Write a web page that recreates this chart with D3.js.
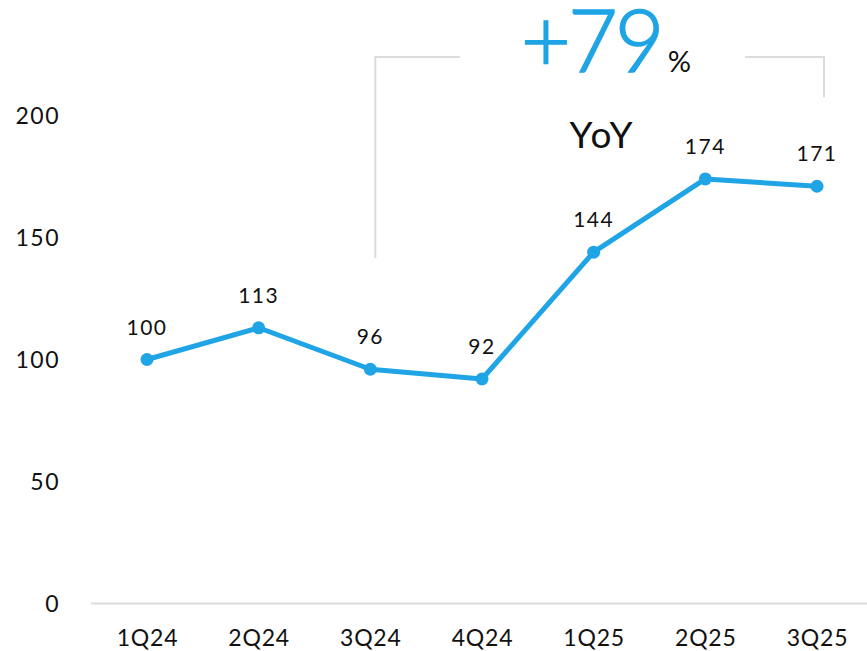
<!DOCTYPE html>
<html>
<head>
<meta charset="utf-8">
<script src="https://cdn.jsdelivr.net/npm/d3@7/dist/d3.min.js"></script>
<style>
  html, body { margin: 0; padding: 0; background: #fff; }
  svg { display: block; font-family: "Lato", "Inter", sans-serif; }
</style>
</head>
<body>
<svg id="chart" width="867" height="651"></svg>
<script>
// Quarterly index values
const quarters = ["1Q24", "2Q24", "3Q24", "4Q24", "1Q25", "2Q25", "3Q25"];
const values = [100, 113, 96, 92, 144, 174, 171];
const yTicks = [0, 50, 100, 150, 200];
const yoyValue = "+79";
const yoyUnit = "%";
const yoyLabel = "YoY";

const blue = "#1fa4e5";
const grey = "#dcdcdc";
const ink = "#111";

const svg = d3.select("#chart");

const x = d3.scalePoint().domain(quarters).range([147, 817]);
const y = d3.scaleLinear().domain([0, 200]).range([603.5, 115.5]);

// Baseline
svg.append("line")
  .attr("x1", 91).attr("x2", 867)
  .attr("y1", y(0)).attr("y2", y(0))
  .attr("stroke", grey).attr("stroke-width", 2);

// Y axis labels
const yAxis = d3.axisLeft(y).tickValues(yTicks).tickSize(0).tickPadding(0);
const gy = svg.append("g").attr("transform", "translate(60,0)").call(yAxis);
gy.select(".domain").remove();
gy.selectAll("text")
  .attr("font-family", "Lato, sans-serif")
  .attr("font-size", 23)
  .attr("letter-spacing", 1.5)
  .attr("fill", ink)
  .attr("dy", "0.36em");

// X axis labels
const xAxis = d3.axisBottom(x).tickSize(0).tickPadding(0);
const gx = svg.append("g").attr("transform", "translate(0,646)").call(xAxis);
gx.select(".domain").remove();
gx.selectAll("text")
  .attr("font-family", "Lato, sans-serif")
  .attr("font-size", 23)
  .attr("letter-spacing", 0.8)
  .attr("fill", ink)
  .attr("dy", 0);

// YoY bracket spanning 3Q24 → 3Q25
const bx0 = x("3Q24") + 5, bx1 = x("3Q25") + 7;
const bTop = 57;
svg.append("path")
  .attr("d", `M${bx0},${y(141.5)}V${bTop}H460`)
  .attr("fill", "none").attr("stroke", grey).attr("stroke-width", 2);
svg.append("path")
  .attr("d", `M745,${bTop}H${bx1}V${y(207.5)}`)
  .attr("fill", "none").attr("stroke", grey).attr("stroke-width", 2);

// YoY headline
const head = svg.append("text")
  .attr("x", 521).attr("y", 72)
  .attr("font-family", "Lato, sans-serif");
head.append("tspan")
  .attr("font-size", 86).attr("font-weight", 300)
  .attr("letter-spacing", -3)
  .attr("fill", blue)
  .attr("stroke", blue)
  .attr("stroke-width", 1.6)
  .text(yoyValue);
head.append("tspan")
  .attr("dx", 6)
  .attr("font-size", 29).attr("fill", ink)
  .text(yoyUnit);

svg.append("text")
  .attr("x", 602).attr("y", 148)
  .attr("text-anchor", "middle")
  .attr("font-family", "Lato, sans-serif")
  .attr("font-size", 37)
  .attr("letter-spacing", 2)
  .attr("fill", ink)
  .text(yoyLabel);

// Series line
const data = quarters.map((q, i) => ({ q, v: values[i] }));
const line = d3.line().x(d => x(d.q)).y(d => y(d.v));

svg.append("path")
  .datum(data)
  .attr("d", line)
  .attr("fill", "none")
  .attr("stroke", blue)
  .attr("stroke-width", 5)
  .attr("stroke-linejoin", "round");

svg.selectAll("circle.pt")
  .data(data)
  .join("circle")
  .attr("class", "pt")
  .attr("cx", d => x(d.q))
  .attr("cy", d => y(d.v))
  .attr("r", 6.5)
  .attr("fill", blue);

// Value labels
svg.selectAll("text.val")
  .data(data)
  .join("text")
  .attr("class", "val")
  .attr("x", d => x(d.q))
  .attr("y", d => y(d.v) - 25)
  .attr("text-anchor", "middle")
  .attr("font-family", "Lato, sans-serif")
  .attr("font-size", 21)
  .attr("letter-spacing", 1.5)
  .attr("fill", ink)
  .text(d => d.v);
</script>
</body>
</html>
